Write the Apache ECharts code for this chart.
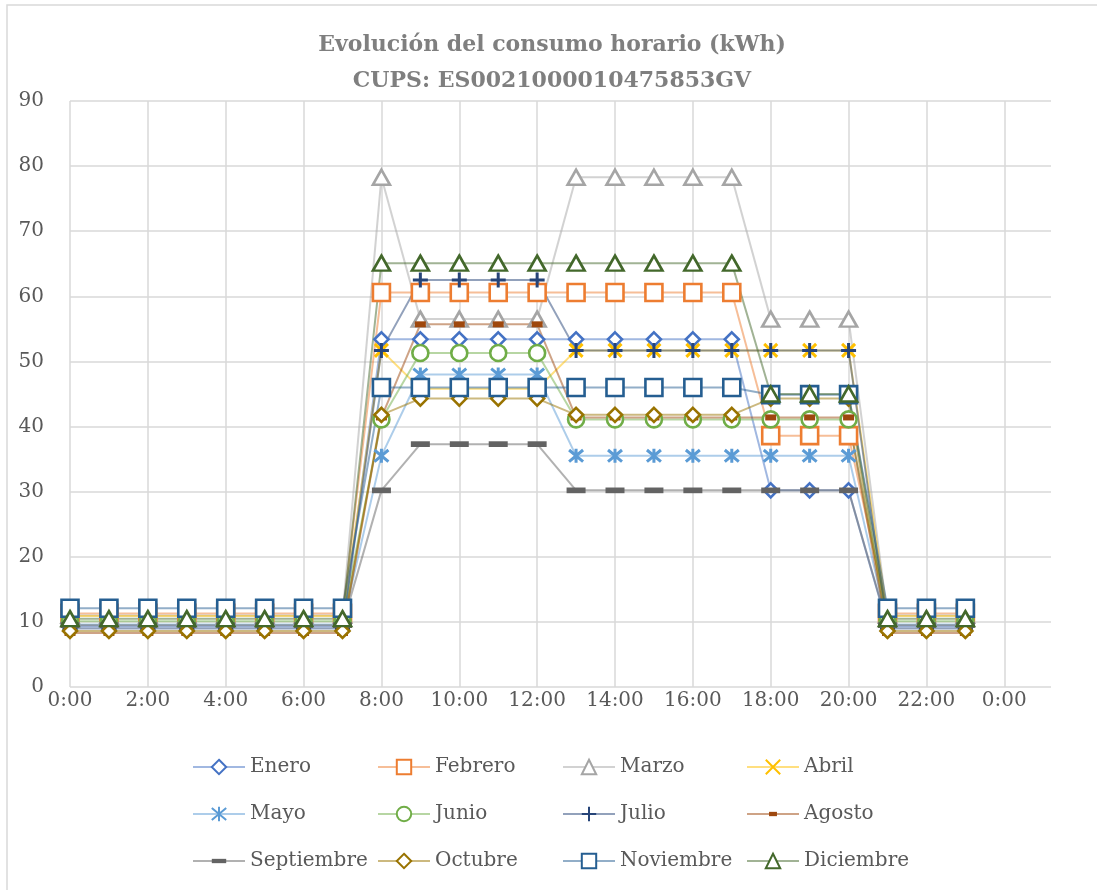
<!DOCTYPE html>
<html>
<head>
<meta charset="utf-8">
<script src="https://cdn.jsdelivr.net/npm/echarts@6/dist/echarts.min.js"></script>
<style>
  html, body { margin: 0; padding: 0; background: #fff; }
  #chart { width: 1097px; height: 890px; }
</style>
</head>
<body>
<div id="chart"></div>
<script>
// horas del día (0:00 .. 23:00)
const hours = [0, 1, 2, 3, 4, 5, 6, 7, 8, 9, 10, 11, 12, 13, 14, 15, 16, 17, 18, 19, 20, 21, 22, 23];
const yTicks = [0, 10, 20, 30, 40, 50, 60, 70, 80, 90];

// consumo (kWh) por mes
const enero      = [9.3, 9.3, 9.3, 9.3, 9.3, 9.3, 9.3, 9.3, 53.4, 53.4, 53.4, 53.4, 53.4, 53.4, 53.4, 53.4, 53.4, 53.4, 30.2, 30.2, 30.2, 9.3, 9.3, 9.3];
const febrero    = [11.3, 11.3, 11.3, 11.3, 11.3, 11.3, 11.3, 11.3, 60.6, 60.6, 60.6, 60.6, 60.6, 60.6, 60.6, 60.6, 60.6, 60.6, 38.6, 38.6, 38.6, 11.3, 11.3, 11.3];
const marzo      = [11.0, 11.0, 11.0, 11.0, 11.0, 11.0, 11.0, 11.0, 78.3, 56.5, 56.5, 56.5, 56.5, 78.3, 78.3, 78.3, 78.3, 78.3, 56.5, 56.5, 56.5, 11.0, 11.0, 11.0];
const abril      = [10.9, 10.9, 10.9, 10.9, 10.9, 10.9, 10.9, 10.9, 51.7, 45.8, 45.8, 45.8, 45.8, 51.7, 51.7, 51.7, 51.7, 51.7, 51.7, 51.7, 51.7, 10.9, 10.9, 10.9];
const mayo       = [9.6, 9.6, 9.6, 9.6, 9.6, 9.6, 9.6, 9.6, 35.5, 48.0, 48.0, 48.0, 48.0, 35.5, 35.5, 35.5, 35.5, 35.5, 35.5, 35.5, 35.5, 9.6, 9.6, 9.6];
const junio      = [10.1, 10.1, 10.1, 10.1, 10.1, 10.1, 10.1, 10.1, 41.1, 51.3, 51.3, 51.3, 51.3, 41.1, 41.1, 41.1, 41.1, 41.1, 41.1, 41.1, 41.1, 10.1, 10.1, 10.1];
const julio      = [9.0, 9.0, 9.0, 9.0, 9.0, 9.0, 9.0, 9.0, 51.7, 62.5, 62.5, 62.5, 62.5, 51.7, 51.7, 51.7, 51.7, 51.7, 51.7, 51.7, 51.7, 9.0, 9.0, 9.0];
const agosto     = [8.3, 8.3, 8.3, 8.3, 8.3, 8.3, 8.3, 8.3, 41.4, 55.7, 55.7, 55.7, 55.7, 41.4, 41.4, 41.4, 41.4, 41.4, 41.4, 41.4, 41.4, 8.3, 8.3, 8.3];
const septiembre = [9.5, 9.5, 9.5, 9.5, 9.5, 9.5, 9.5, 9.5, 30.2, 37.3, 37.3, 37.3, 37.3, 30.2, 30.2, 30.2, 30.2, 30.2, 30.2, 30.2, 30.2, 9.5, 9.5, 9.5];
const octubre    = [8.6, 8.6, 8.6, 8.6, 8.6, 8.6, 8.6, 8.6, 41.8, 44.3, 44.3, 44.3, 44.3, 41.8, 41.8, 41.8, 41.8, 41.8, 44.3, 44.3, 44.3, 8.6, 8.6, 8.6];
const noviembre  = [12.1, 12.1, 12.1, 12.1, 12.1, 12.1, 12.1, 12.1, 46.0, 46.0, 46.0, 46.0, 46.0, 46.0, 46.0, 46.0, 46.0, 46.0, 44.9, 44.9, 44.9, 12.1, 12.1, 12.1];
const diciembre  = [10.5, 10.5, 10.5, 10.5, 10.5, 10.5, 10.5, 10.5, 65.1, 65.1, 65.1, 65.1, 65.1, 65.1, 65.1, 65.1, 65.1, 65.1, 45.0, 45.0, 45.0, 10.5, 10.5, 10.5];

const FONT = 'DejaVu Serif';
const TXT = '#595959';

// marcadores tipo Excel (caja cuadrada para que la leyenda no los deforme)
const X_PATH = 'path://M0,0L10,10M10,0L0,10';
const STAR_PATH = 'path://M0,0L10,10M10,0L0,10M5,-1L5,11';
const PLUS_PATH = 'path://M5,0L5,10M0,5L10,5';
const DASH_LONG = 'path://M0,0M0,20M0,7L20,7L20,13L0,13Z';
const DASH_SHORT = 'path://M0,0M20,20M4.5,7L15.5,7L15.5,13L4.5,13Z';

const hollow = (c) => ({ color: '#fff', borderColor: c, borderWidth: 2.6 });
const stroke = (c) => ({ color: c, borderColor: c, borderWidth: 3 });
const solid = (c) => ({ color: c, borderWidth: 0 });

const months = [
  { name: 'Enero', data: enero, c: '#4472C4', symbol: 'diamond', size: 14, style: hollow },
  { name: 'Febrero', data: febrero, c: '#ED7D31', symbol: 'rect', size: 17, style: hollow },
  { name: 'Marzo', data: marzo, c: '#A5A5A5', symbol: 'triangle', size: [17, 15], style: hollow },
  { name: 'Abril', data: abril, c: '#FFC000', symbol: X_PATH, size: 13, style: stroke },
  { name: 'Mayo', data: mayo, c: '#5B9BD5', symbol: STAR_PATH, size: 14, style: stroke },
  { name: 'Junio', data: junio, c: '#70AD47', symbol: 'circle', size: 16, style: hollow },
  { name: 'Julio', data: julio, c: '#264478', symbol: PLUS_PATH, size: 15, style: stroke },
  { name: 'Agosto', data: agosto, c: '#9E480E', symbol: DASH_SHORT, size: 20, style: solid },
  { name: 'Septiembre', data: septiembre, c: '#636363', symbol: DASH_LONG, size: 19, style: solid },
  { name: 'Octubre', data: octubre, c: '#997300', symbol: 'diamond', size: 14, style: hollow },
  { name: 'Noviembre', data: noviembre, c: '#255E91', symbol: 'rect', size: 17, style: hollow },
  { name: 'Diciembre', data: diciembre, c: '#43682B', symbol: 'triangle', size: [17, 15], style: hollow }
];

const chart = echarts.init(document.getElementById('chart'));

// leyenda en 4 columnas x 3 filas
const legendCols = [
  ['Enero', 'Mayo', 'Septiembre'],
  ['Febrero', 'Junio', 'Octubre'],
  ['Marzo', 'Julio', 'Noviembre'],
  ['Abril', 'Agosto', 'Diciembre']
];
const legendLeft = [192, 377, 562, 746];

const option = {
  backgroundColor: '#fff',
  animation: false,
  title: {
    text: 'Evolución del consumo horario (kWh)\nCUPS: ES0021000010475853GV',
    left: 552,
    textAlign: 'center',
    top: 27,
    padding: 0,
    textStyle: {
      fontFamily: FONT, fontWeight: 'bold', fontSize: 22,
      color: '#7F7F7F', lineHeight: 36
    }
  },
  graphic: [{
    type: 'rect',
    shape: { x: 7, y: 5, width: 1200, height: 1000 },
    style: { fill: 'none', stroke: '#D9D9D9', lineWidth: 1.5 },
    silent: true
  }],
  legend: legendCols.map((col, i) => ({
    data: col,
    orient: 'vertical',
    left: legendLeft[i],
    top: 755,
    padding: 0,
    itemWidth: 52,
    itemHeight: 18,
    itemGap: 23,
    textStyle: { fontFamily: FONT, fontSize: 20, color: TXT, lineHeight: 24 }
  })),
  grid: { left: 70, right: 46, top: 101, bottom: 203 },
  xAxis: {
    type: 'value',
    min: 0,
    max: 25.2,
    interval: 2,
    axisLine: { show: false },
    axisTick: { show: false },
    splitLine: { show: true, showMaxLine: false, lineStyle: { color: '#D9D9D9', width: 1.5 } },
    axisLabel: {
      fontFamily: FONT, fontSize: 20, color: TXT, margin: 4,
      showMaxLabel: false,
      formatter: (v) => (v % 2 === 0 ? (v % 24) + ':00' : '')
    }
  },
  yAxis: {
    type: 'value',
    min: yTicks[0],
    max: yTicks[yTicks.length - 1],
    interval: 10,
    axisLine: { show: false },
    axisTick: { show: false },
    splitLine: { lineStyle: { color: '#D9D9D9', width: 1.5 } },
    axisLabel: { fontFamily: FONT, fontSize: 20, color: TXT, margin: 26 }
  },
  series: months.map((m) => ({
    name: m.name,
    type: 'line',
    data: hours.map((h, i) => [h, m.data[i]]),
    symbol: m.symbol,
    symbolSize: m.size,
    showAllSymbol: true,
    lineStyle: { color: m.c, width: 2, opacity: 0.5 },
    itemStyle: m.style(m.c),
    emphasis: { disabled: true }
  }))
};

chart.setOption(option);
</script>
</body>
</html>
